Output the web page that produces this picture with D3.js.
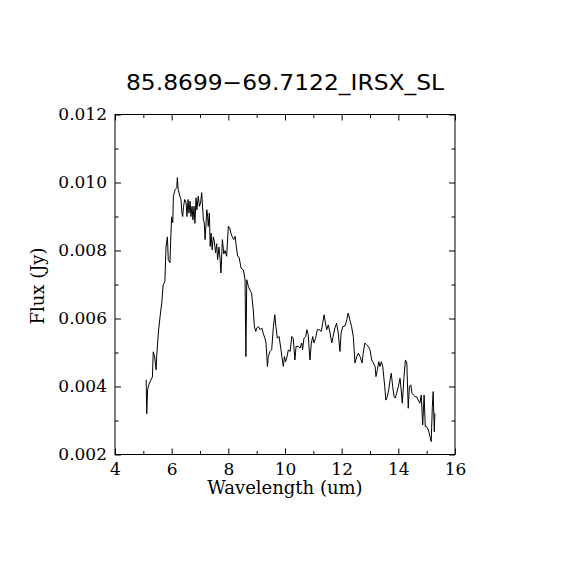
<!DOCTYPE html>
<html>
<head>
<meta charset="utf-8">
<script src="https://cdn.jsdelivr.net/npm/d3@7"></script>
<style>
html,body{margin:0;padding:0;background:#fff;}
svg{display:block;}
</style>
</head>
<body>
<svg id="chart" width="570" height="570"></svg>
<script>
const titleText = "85.8699\u221269.7122_IRSX_SL";
const xLabel = "Wavelength (um)";
const yLabel = "Flux (Jy)";
const xDomain = [4, 16];
const yDomain = [0.002, 0.012];
const xMajorTicks = [4, 6, 8, 10, 12, 14, 16];
const xMinorTicks = [5, 7, 9, 11, 13, 15];
const yMajorTicks = [0.002, 0.004, 0.006, 0.008, 0.010, 0.012];
const yMinorTicks = [0.003, 0.005, 0.007, 0.009, 0.011];

const wavelength = [
5.10,5.12,5.15,5.20,5.32,5.35,5.40,5.45,5.47,5.53,5.59,5.65,5.70,5.76,5.80,5.85,5.88,5.94,5.97,6.00,
6.04,6.06,6.12,6.18,6.20,6.23,6.29,6.33,6.36,6.39,6.42,6.46,6.51,6.54,6.58,6.61,6.65,6.68,6.72,6.75,
6.79,6.82,6.86,6.89,6.94,6.98,7.02,7.06,7.12,7.15,7.18,7.24,7.27,7.29,7.33,7.36,7.39,7.43,7.47,7.50,
7.55,7.59,7.62,7.67,7.71,7.74,7.79,7.84,7.88,7.94,8.00,8.05,8.09,8.14,8.19,8.24,8.28,8.33,8.38,8.45,
8.53,8.59,8.62,8.65,8.71,8.78,8.82,8.88,8.92,8.97,9.00,9.06,9.12,9.18,9.23,9.29,9.33,9.38,9.41,9.47,
9.53,9.59,9.64,9.68,9.73,9.79,9.85,9.89,9.94,9.98,10.02,10.06,10.12,10.18,10.24,10.29,10.35,10.39,10.47,10.53,
10.59,10.62,10.67,10.73,10.77,10.82,10.88,10.93,10.98,11.02,11.08,11.14,11.21,11.28,11.33,11.38,11.42,11.47,11.53,11.59,
11.65,11.70,11.76,11.82,11.88,11.94,11.98,12.04,12.12,12.18,12.23,12.29,12.35,12.41,12.47,12.53,12.59,12.65,12.72,12.76,
12.82,12.88,12.94,13.00,13.06,13.12,13.18,13.21,13.26,13.31,13.35,13.40,13.45,13.52,13.56,13.61,13.66,13.71,13.75,13.80,
13.85,13.89,13.94,14.00,14.06,14.10,14.14,14.20,14.25,14.30,14.35,14.39,14.44,14.48,14.53,14.59,14.65,14.70,14.76,14.81,
14.86,14.91,14.95,15.00,15.06,15.12,15.16,15.20,15.23,15.27,15.29
];
const flux = [
0.00420,0.00320,0.00390,0.00407,0.00428,0.00502,0.00487,0.00449,0.00487,0.00558,0.00605,0.00646,0.00699,0.00708,0.00811,0.00840,0.00773,0.00764,0.00840,0.00899,
0.00882,0.00959,0.00979,0.00985,0.01014,0.00979,0.00960,0.00950,0.00910,0.00900,0.00930,0.00950,0.00940,0.00900,0.00950,0.00910,0.00945,0.00900,0.00930,0.00890,
0.00930,0.00880,0.00955,0.00920,0.00960,0.00930,0.00940,0.00970,0.00890,0.00881,0.00832,0.00920,0.00900,0.00871,0.00910,0.00812,0.00851,0.00802,0.00840,0.00830,
0.00793,0.00820,0.00773,0.00810,0.00773,0.00734,0.00832,0.00790,0.00800,0.00783,0.00871,0.00866,0.00851,0.00840,0.00832,0.00842,0.00812,0.00783,0.00780,0.00748,
0.00743,0.00714,0.00488,0.00714,0.00694,0.00680,0.00675,0.00625,0.00576,0.00562,0.00572,0.00576,0.00567,0.00572,0.00557,0.00542,0.00528,0.00459,0.00488,0.00503,
0.00508,0.00576,0.00611,0.00576,0.00542,0.00547,0.00513,0.00488,0.00459,0.00488,0.00473,0.00483,0.00508,0.00503,0.00547,0.00542,0.00478,0.00518,0.00518,0.00513,
0.00528,0.00508,0.00542,0.00547,0.00567,0.00552,0.00478,0.00528,0.00547,0.00528,0.00542,0.00567,0.00567,0.00562,0.00586,0.00611,0.00591,0.00567,0.00581,0.00557,
0.00528,0.00547,0.00572,0.00586,0.00557,0.00503,0.00557,0.00576,0.00578,0.00596,0.00616,0.00596,0.00576,0.00547,0.00469,0.00488,0.00498,0.00488,0.00469,0.00498,
0.00528,0.00523,0.00518,0.00508,0.00478,0.00469,0.00459,0.00429,0.00449,0.00473,0.00459,0.00473,0.00459,0.00400,0.00360,0.00370,0.00390,0.00420,0.00439,0.00400,
0.00370,0.00366,0.00380,0.00400,0.00424,0.00390,0.00351,0.00429,0.00478,0.00469,0.00336,0.00400,0.00405,0.00380,0.00375,0.00370,0.00370,0.00360,0.00351,0.00375,
0.00287,0.00375,0.00282,0.00282,0.00272,0.00252,0.00238,0.00341,0.00385,0.00267,0.00321
];

(function(){
const svg = d3.select("#chart");
const pLeft = 115, pRight = 455, pTop = 114.5, pBottom = 454.5;
const x = d3.scaleLinear().domain(xDomain).range([pLeft, pRight]);
const y = d3.scaleLinear().domain(yDomain).range([pBottom, pTop]);
const serif = "'DejaVu Serif', serif";
const majorLen = 6, minorLen = 3.5;

svg.append("rect").attr("x", pLeft).attr("y", pTop).attr("width", pRight-pLeft).attr("height", pBottom-pTop)
  .attr("fill", "none").attr("stroke", "#000").attr("stroke-width", 1);

function styleAxis(g){
  g.select(".domain").remove();
  g.selectAll("line").attr("stroke", "#000").attr("stroke-width", 1);
  g.selectAll("text").attr("fill", "#000").style("font-family", serif).style("font-size", "17px");
}

svg.append("g").attr("transform", `translate(0,${pBottom})`)
  .call(d3.axisBottom(x).tickValues(xMajorTicks).tickFormat(d3.format("d")).tickSize(-majorLen).tickPadding(8)).call(styleAxis);
svg.append("g").attr("transform", `translate(0,${pBottom})`)
  .call(d3.axisBottom(x).tickValues(xMinorTicks).tickFormat("").tickSize(-minorLen)).call(styleAxis);
svg.append("g").attr("transform", `translate(0,${pTop})`)
  .call(d3.axisTop(x).tickValues(xMajorTicks).tickFormat("").tickSize(-majorLen)).call(styleAxis);
svg.append("g").attr("transform", `translate(0,${pTop})`)
  .call(d3.axisTop(x).tickValues(xMinorTicks).tickFormat("").tickSize(-minorLen)).call(styleAxis);
svg.append("g").attr("transform", `translate(${pLeft},0)`)
  .call(d3.axisLeft(y).tickValues(yMajorTicks).tickFormat(d3.format(".3f")).tickSize(-majorLen).tickPadding(8)).call(styleAxis);
svg.append("g").attr("transform", `translate(${pLeft},0)`)
  .call(d3.axisLeft(y).tickValues(yMinorTicks).tickFormat("").tickSize(-minorLen)).call(styleAxis);
svg.append("g").attr("transform", `translate(${pRight},0)`)
  .call(d3.axisRight(y).tickValues(yMajorTicks).tickFormat("").tickSize(-majorLen)).call(styleAxis);
svg.append("g").attr("transform", `translate(${pRight},0)`)
  .call(d3.axisRight(y).tickValues(yMinorTicks).tickFormat("").tickSize(-minorLen)).call(styleAxis);

const pts = wavelength.map((w,i)=>[w, flux[i]]);
const line = d3.line().x(d=>x(d[0])).y(d=>y(d[1]));
svg.append("path").datum(pts).attr("d", line)
  .attr("fill", "none").attr("stroke", "#000").attr("stroke-width", 1);

svg.append("text").attr("x", 285).attr("y", 90).attr("text-anchor", "middle")
  .attr("textLength", 318).attr("lengthAdjust", "spacingAndGlyphs")
  .style("font-family", "'DejaVu Sans', sans-serif").style("font-size", "21px").attr("fill", "#000")
  .text(titleText);
svg.append("text").attr("x", 285).attr("y", 494).attr("text-anchor", "middle")
  .style("font-family", serif).style("font-size", "18px").attr("fill", "#000").text(xLabel);
svg.append("text").attr("transform", "translate(44,286) rotate(-90)").attr("text-anchor", "middle")
  .style("font-family", serif).style("font-size", "18px").attr("fill", "#000").text(yLabel);
})();
</script>
</body>
</html>
